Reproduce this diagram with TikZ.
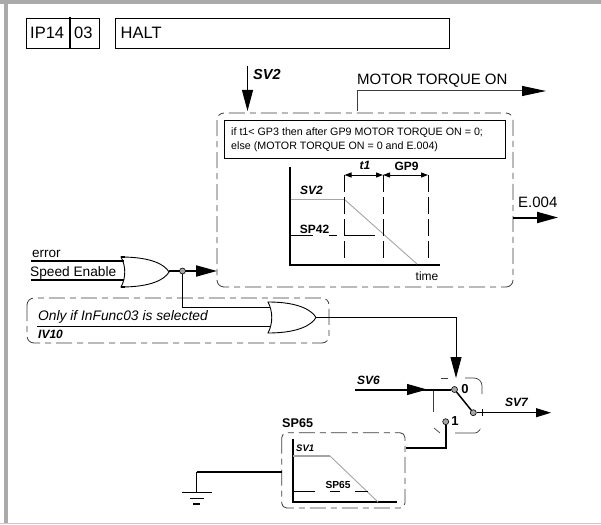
\documentclass[tikz,border=0pt]{standalone}
\usepackage{fontspec}
\setmainfont{Liberation Sans}
\usetikzlibrary{arrows.meta, calc}
\definecolor{framegray}{RGB}{170, 170, 170}
\definecolor{rampgray}{RGB}{165, 165, 165}
\definecolor{wiredark}{RGB}{60, 60, 60}
\tikzset{
  labelbox/.style={draw, line width=0.9pt, inner sep=0pt, anchor=north west, align=left},
  tag/.style={inner sep=0pt, font=\fontsize{15}{17}\selectfont},
  titletag/.style={inner sep=0pt, anchor=west, font=\fontsize{16.5}{18}\selectfont},
  tagbold/.style={inner sep=0pt, font=\fontsize{12}{14}\selectfont\bfseries},
  tagital/.style={inner sep=0pt, font=\fontsize{12}{14}\selectfont\bfseries\itshape},
  dashbox/.style={draw=wiredark, line width=0.8pt, rounded corners=7pt, dash pattern=on 16pt off 5pt on 6pt off 5pt},
  thickwire/.style={line width=2pt},
  thinwire/.style={line width=1pt},
  headwire/.style={-{Triangle[length=21pt, width=11pt]}},
  pin/.style={circle, draw=black, fill=rampgray, line width=0.6pt, inner sep=0pt, minimum size=6pt},
  ramp/.style={rampgray, line width=0.9pt},
  hatch/.style={line width=0.8pt, dash pattern=on 17pt off 5pt},
}
\newcommand{\orgate}[4]{% back x, top y, bottom y, tip x
  \draw[line width=0.9pt] (#1,#2) .. controls ({#1+5},{(#2+#3)/2-6}) and ({#1+5},{(#2+#3)/2+6}) .. (#1,#3)
    .. controls ({#1+(#4-#1)*0.65},{#3}) and ({#4-4},{(#2+#3)/2+7}) .. (#4,{(#2+#3)/2})
    .. controls ({#4-4},{(#2+#3)/2-7}) and ({#1+(#4-#1)*0.65},{#2}) .. cycle;
}
\begin{document}
\begin{tikzpicture}[x=1pt, y=-1pt]
  \useasboundingbox (0,0) rectangle (601,524);
  \fill[white] (0,0) rectangle (601,524);

  % frame
  \fill[framegray] (0,0) rectangle (601,4);
  \fill[framegray] (4,0) rectangle (8,524);
  \fill[framegray!60] (0,522.5) rectangle (601,524);

  % title
  \node[labelbox, minimum width=73pt, minimum height=30pt] (ipbox) at (26,18) {};
  \node[labelbox, minimum width=334pt, minimum height=30pt] (haltbox) at (114.5,18) {};
  \node[titletag] (ipname) at (30,33) {IP14};
  \node[titletag] (ipnum) at (74,33) {03};
  \node[titletag] (halt) at (120.5,33) {HALT};
  \draw[line width=2pt] (69.5,17) -- (69.5,49);

  % torque block
  \draw[dashbox] (217,113) rectangle (513,287);
  \coordinate (blocktop) at (247.5,111);
  \coordinate (blockleft) at (217,271);
  \coordinate (blockright) at (513,217.5);
  \coordinate (torquefoot) at (357,111);
  \node[labelbox, minimum width=281pt, minimum height=38pt] (note) at (224,120) {};
  \node[inner sep=0pt, anchor=west, align=left, font=\fontsize{10.7}{14}\selectfont] (notetext) at (231,140)
    {if t1< GP3 then after GP9 MOTOR TORQUE ON = 0;\\else (MOTOR TORQUE ON = 0 and E.004)};

  \coordinate (svtwostart) at (247.5,66);
  \node[tagital, anchor=west, font=\fontsize{14.5}{16}\selectfont\bfseries\itshape] (svtwo) at (253,75) {SV2};
  \draw[thinwire, headwire] (svtwostart) -- (blocktop);

  \coordinate (torqueend) at (546,91);
  \node[tag, anchor=west] (torque) at (357,81) {MOTOR TORQUE ON};
  \draw[thinwire, wiredark, -{Triangle[length=24pt, width=10pt, color=black]}] (torquefoot) |- (torqueend);

  \coordinate (errend) at (558,217.5);
  \node[tag, anchor=west] (errcode) at (518,202) {E.004};
  \draw[thickwire, -{Triangle[length=21pt, width=11pt]}] (blockright) -- (errend);

  % ramp graph
  \draw[line width=1.9pt] (290,167) -- (290,265) -- (440,265);
  \draw[ramp, line width=1.4pt] (291,199.5) -- (344.5,199.5);
  \draw[ramp] (344.5,199.5) -- (417,264);
  \draw[hatch] (344.5,175) -- (344.5,260);
  \draw[hatch] (383,175) -- (383,260);
  \draw[hatch] (428,175) -- (428,260);
  \draw[thinwire, {Triangle[length=7pt, width=5pt]}-{Triangle[length=7pt, width=5pt]}] (344.5,175) -- (383,175);
  \draw[thinwire, {Triangle[length=7pt, width=5pt]}-{Triangle[length=7pt, width=5pt]}] (383,175) -- (428,175);
  \draw[line width=0.7pt, dash pattern=on 22pt off 16pt on 8pt off 8pt on 30pt off 5pt] (291,235.5) -- (375,235.5);
  \node[tagital] (tone) at (365,165.5) {t1};
  \node[tagbold] (gpnine) at (406.5,166) {GP9};
  \node[tagital] (rampsv) at (311.5,190) {SV2};
  \node[tagbold] (spfortytwo) at (314.5,229) {SP42};
  \node[inner sep=0pt, font=\fontsize{12}{14}\selectfont] (timelabel) at (427,276) {time};

  % first gate
  \coordinate (errorin) at (31,260.7);
  \coordinate (enablein) at (31,280);
  \draw[thickwire] (errorin) -- (124,260.7);
  \draw[thickwire] (enablein) -- (124,280);
  \node[inner sep=0pt, anchor=west, font=\fontsize{13.5}{15}\selectfont] (errorlabel) at (32,254) {error};
  \node[inner sep=0pt, anchor=west, font=\fontsize{13.7}{15}\selectfont] (enablelabel) at (30,272.5) {Speed Enable};
  \orgate{121}{257}{287}{169}
  \draw[line width=1.6pt] (121,257) -- (125,257);
  \draw[line width=1.6pt] (121,287) -- (125,287);
  \coordinate (gateoneout) at (169,271);
  \draw[thickwire, headwire] (gateoneout) -- (blockleft);
  \node[pin] (junction) at (182.5,271) {};

  % second gate
  \draw[dashbox] (27,298) rectangle (329,343);
  \coordinate (funcin) at (37,326.7);
  \coordinate (gatetwoin) at (270,307.5);
  \coordinate (gatetwoout) at (316,317);
  \draw[thinwire] (junction) |- (gatetwoin);
  \draw[thinwire] (funcin) -- (270,326.7);
  \orgate{268}{302}{333}{316}
  \node[inner sep=0pt, anchor=west, font=\fontsize{13.8}{15}\selectfont\itshape] (funclabel) at (38,316.5) {Only if InFunc03 is selected};
  \node[tagital, anchor=west] (ivten) at (38,334) {IV10};

  % switch
  \draw[wiredark, line width=0.7pt] (441,378) -- (448,378);
  \draw[wiredark, line width=0.7pt, rounded corners=8pt] (465,378) -- (482,378) -- (482,394);
  \draw[wiredark, line width=0.7pt] (434,428) -- (440,433);
  \draw[wiredark, line width=0.7pt, rounded corners=3pt] (455,433) -- (478,433) -- (479,431);
  \draw[line width=0.6pt, wiredark] (433,390) -- (433,412);
  \draw[line width=0.7pt] (482,409) -- (482,416);
  \coordinate (svsixin) at (355,389.5);
  \coordinate (svsixhead) at (427,389.5);
  \node[pin] (pinzero) at (454.5,389.5) {};
  \node[pin] (pinone) at (445.7,421.7) {};
  \node[pin] (pinout) at (473.3,412.7) {};
  \node[tagbold, font=\fontsize{13}{15}\selectfont\bfseries] (zero) at (465,389) {0};
  \node[tagbold, font=\fontsize{13}{15}\selectfont\bfseries] (one) at (455,421) {1};
  \node[tagital] (svsix) at (368.5,380) {SV6};
  \node[tagital] (svseven) at (516.5,402) {SV7};
  \coordinate (svsevenend) at (551,412.7);
  \draw[thickwire] (svsixin) -- (pinzero);
  \draw[thinwire, -{Triangle[length=20pt, width=11pt]}] (svsixin) -- (svsixhead);
  \draw[line width=1.5pt] (pinzero) -- (pinout);
  \draw[thinwire, -{Triangle[length=15pt, width=9pt]}] (pinout) -- (svsevenend);
  \coordinate (pinzerotop) at (456,378);
  \draw[thinwire, -{Triangle[length=21pt, width=11pt]}] (gatetwoout) -| (pinzerotop);

  % ramp block
  \draw[dashbox, rounded corners=5pt] (281.7,432.7) rectangle (405,508);
  \node[tagbold, anchor=west, font=\fontsize{12.6}{14}\selectfont\bfseries] (spsixtyfive) at (282,423) {SP65};
  \coordinate (rampright) at (406,447.7);
  \coordinate (rampleft) at (281.7,471.7);
  \draw[thickwire] (pinone) |- (rampright);
  \draw[line width=1.9pt] (292.7,439) -- (292.7,502) -- (396.7,502);
  \draw[ramp, line width=1.4pt] (293,456) -- (330,456);
  \draw[ramp] (330,456) -- (378,502);
  \draw[line width=0.7pt, dash pattern=on 22pt off 15pt on 10pt off 15pt on 14pt off 5pt] (293,491.5) -- (368,491.5);
  \node[inner sep=0pt, anchor=west, font=\fontsize{9.5}{11}\selectfont\bfseries\itshape] (svone) at (296,448) {SV1};
  \node[inner sep=0pt, font=\fontsize{10.2}{12}\selectfont\bfseries] (sprampl) at (338,485) {SP65};

  % ground
  \coordinate (groundtop) at (196.7,492);
  \draw[thickwire] (rampleft) -- (196.7,471.7);
  \draw[thinwire] (196.7,471.7) -- (groundtop);
  \draw[thinwire] (182,492) -- (212,492);
  \draw[thinwire] (190,498) -- (204,498);
  \draw[line width=1.8pt] (193,504) -- (200,504);
\end{tikzpicture}
\end{document}
